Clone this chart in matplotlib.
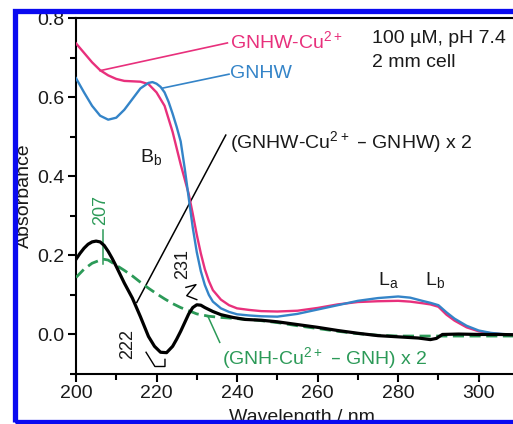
import matplotlib.pyplot as plt
from matplotlib.patches import Rectangle

plt.rcParams['font.family'] = ['Liberation Sans', 'DejaVu Sans']
plt.rcParams['mathtext.default'] = 'regular'

# GNHW-Cu2+ (magenta)
wl_cu = [200, 202, 204, 206, 208, 210, 212, 214, 216, 218, 220, 222, 224, 226, 228, 229, 230, 231,
         232, 233, 234, 236, 238, 240, 243, 246, 250, 255, 260, 265, 270, 275, 280, 283, 286, 288,
         290, 292, 294, 297, 300, 303, 306, 310]
abs_cu = [0.736, 0.712, 0.688, 0.668, 0.655, 0.646, 0.641, 0.640, 0.639, 0.633, 0.612, 0.578, 0.512,
          0.430, 0.355, 0.305, 0.252, 0.205, 0.165, 0.135, 0.112, 0.088, 0.074, 0.066, 0.062, 0.059,
          0.058, 0.060, 0.067, 0.076, 0.082, 0.084, 0.085, 0.083, 0.079, 0.076, 0.070, 0.050, 0.035,
          0.018, 0.008, 0.003, 0.000, -0.002]

# GNHW (blue)
wl_w = [200, 202, 204, 206, 208, 210, 212, 214, 216, 218, 219, 220, 221, 222, 223, 224, 225, 226, 227,
        228, 229, 230, 231, 232, 233, 234, 236, 238, 240, 243, 246, 250, 255, 260, 265, 270, 275, 280,
        283, 286, 288, 290, 292, 294, 297, 300, 303, 306, 310]
abs_w = [0.648, 0.612, 0.578, 0.553, 0.543, 0.548, 0.568, 0.595, 0.622, 0.636, 0.638, 0.634, 0.626,
         0.612, 0.588, 0.558, 0.525, 0.488, 0.420, 0.345, 0.270, 0.208, 0.160, 0.125, 0.100, 0.083,
         0.066, 0.057, 0.051, 0.048, 0.046, 0.045, 0.052, 0.063, 0.074, 0.085, 0.092, 0.096, 0.093,
         0.085, 0.080, 0.074, 0.056, 0.040, 0.022, 0.010, 0.004, 0.001, -0.001]

# (GNHW-Cu2+ - GNHW) x 2 (black)
wl_d = [200, 201, 202, 203, 204, 205, 206, 207, 208, 209, 210, 212, 214, 216, 218, 219.5, 221, 222.5,
        224, 225, 226, 227, 228, 229, 230, 231, 232, 234, 236, 239, 242, 246, 250, 255, 260, 265, 270,
        275, 280, 285, 288, 289.5, 291, 295, 300, 305, 310]
abs_d = [0.190, 0.205, 0.218, 0.228, 0.234, 0.236, 0.234, 0.225, 0.210, 0.192, 0.172, 0.130, 0.092,
         0.045, -0.005, -0.030, -0.045, -0.046, -0.030, -0.012, 0.008, 0.030, 0.052, 0.068, 0.075,
         0.074, 0.068, 0.058, 0.050, 0.043, 0.038, 0.036, 0.032, 0.025, 0.018, 0.010, 0.003, -0.003,
         -0.006, -0.009, -0.013, -0.010, 0.000, 0.001, 0.000, 0.000, -0.001]

# (GNH-Cu2+ - GNH) x 2 (green dashed)
wl_g = [200, 202, 204, 206, 207, 208, 210, 212, 214, 216, 218, 220, 222, 224, 226, 228, 230, 233, 236,
        240, 245, 250, 255, 260, 265, 270, 275, 280, 290, 300, 310]
abs_g = [0.144, 0.165, 0.180, 0.188, 0.190, 0.188, 0.175, 0.162, 0.148, 0.132, 0.117, 0.103, 0.090,
         0.078, 0.068, 0.060, 0.052, 0.046, 0.043, 0.040, 0.036, 0.030, 0.022, 0.015, 0.008, 0.002,
         -0.002, -0.004, -0.004, -0.004, -0.004]

magenta = '#e8307c'
blue = '#3484c8'
green = '#2c9a58'
dark = '#1a1a1a'

fig = plt.figure(figsize=(5.13, 4.24), dpi=100)
ax = fig.add_axes([0.1481, 0.1179, 0.8635, 0.8396])

ax.plot(wl_cu, abs_cu, color=magenta, lw=1.7, zorder=3)
ax.plot(wl_w, abs_w, color=blue, lw=1.7, zorder=4)
ax.plot(wl_g, abs_g, color=green, lw=2.0, ls=(0, (4, 2)), zorder=5)
ax.plot(wl_d, abs_d, color='black', lw=2.3, zorder=6)

# leader lines
ax.plot([206.0, 237.6], [0.667, 0.737], color=magenta, lw=1.2)
ax.plot([221.6, 238.0], [0.623, 0.658], color=blue, lw=1.2)
ax.plot([215.1, 237.2], [0.081, 0.504], color='black', lw=1.1)
ax.plot([232.8, 235.7], [0.045, -0.020], color=green, lw=1.1)
ax.plot([206.6, 206.6], [0.265, 0.177], color=green, lw=1.1)
ax.plot([217.4, 219.6, 222.1, 222.1], [-0.045, -0.081, -0.081, -0.063], color='black', lw=1.0)
ax.plot([227.3, 229.8, 227.5, 230.0], [0.119, 0.126, 0.098, 0.088], color='black', lw=1.0)

fs = 14
ax.text(238.2, 0.724, 'GNHW-Cu$^{2+}$', color=magenta, fontsize=fs, va='baseline')
ax.text(238.2, 0.648, 'GNHW', color=blue, fontsize=fs, va='baseline')
ax.text(273.4, 0.736, '100 \u00b5M, pH 7.4', color=dark, fontsize=fs, va='baseline')
ax.text(273.4, 0.677, '2 mm cell', color=dark, fontsize=fs, va='baseline')
ax.text(238.2, 0.472, '(GNHW-Cu$^{2+}$ \u2013 GNHW) x 2', color=dark, fontsize=fs, va='baseline')
ax.text(236.2, -0.076, '(GNH-Cu$^{2+}$ \u2013 GNH) x 2', color=green, fontsize=fs, va='baseline')
ax.text(215.9, 0.436, 'B$_b$', color=dark, fontsize=fs, va='baseline')
ax.text(275.0, 0.126, 'L$_a$', color=dark, fontsize=fs, va='baseline')
ax.text(286.6, 0.126, 'L$_b$', color=dark, fontsize=fs, va='baseline')
ax.text(206.1, 0.315, '207', color=green, fontsize=13, rotation=90, ha='center', va='center')
ax.text(212.9, -0.025, '222', color=dark, fontsize=13, rotation=90, ha='center', va='center')
ax.text(226.6, 0.177, '231', color=dark, fontsize=13, rotation=90, ha='center', va='center')

ax.set_xlim(200, 310)
ax.set_ylim(-0.1, 0.8)
ax.set_xticks([200, 220, 240, 260, 280, 300])
ax.set_xticks([210, 230, 250, 270, 290], minor=True)
ax.set_yticks([0.0, 0.2, 0.4, 0.6, 0.8])
ax.set_yticks([-0.1, 0.1, 0.3, 0.5, 0.7], minor=True)
ax.set_yticklabels(['0.0', '0.2', '0.4', '0.6', '0.8'])
ax.tick_params(which='major', direction='out', length=6, width=1.5, labelsize=14, pad=2,
               colors='black', labelcolor=dark)
ax.tick_params(which='minor', direction='out', length=4.5, width=1.5)
for s in ax.spines.values():
    s.set_linewidth(1.5)

ax.set_xlabel('Wavelength / nm', fontsize=14, color=dark)
ax.set_ylabel('Absorbance', fontsize=14, color=dark)
ax.xaxis.set_label_coords(0.51, -0.098)
ax.yaxis.set_label_coords(-0.098, 0.5)

# white margin and blue frame around the cropped figure
W, H = 513, 424
for r in [(0, 0, 12 / W, 1), (0, 1 - 8 / H, 1, 8 / H), (0, 0, 1, 1 / H)]:
    fig.add_artist(Rectangle(r[:2], r[2], r[3], transform=fig.transFigure,
                             facecolor='white', edgecolor='none', zorder=20))
fig.add_artist(Rectangle((14.5 / W, 2.5 / H), 1.2, 1 - 13 / H, transform=fig.transFigure,
                         facecolor='none', edgecolor='#0a0af0', lw=3.8, zorder=21))

fig.savefig('out.png', dpi=100)
